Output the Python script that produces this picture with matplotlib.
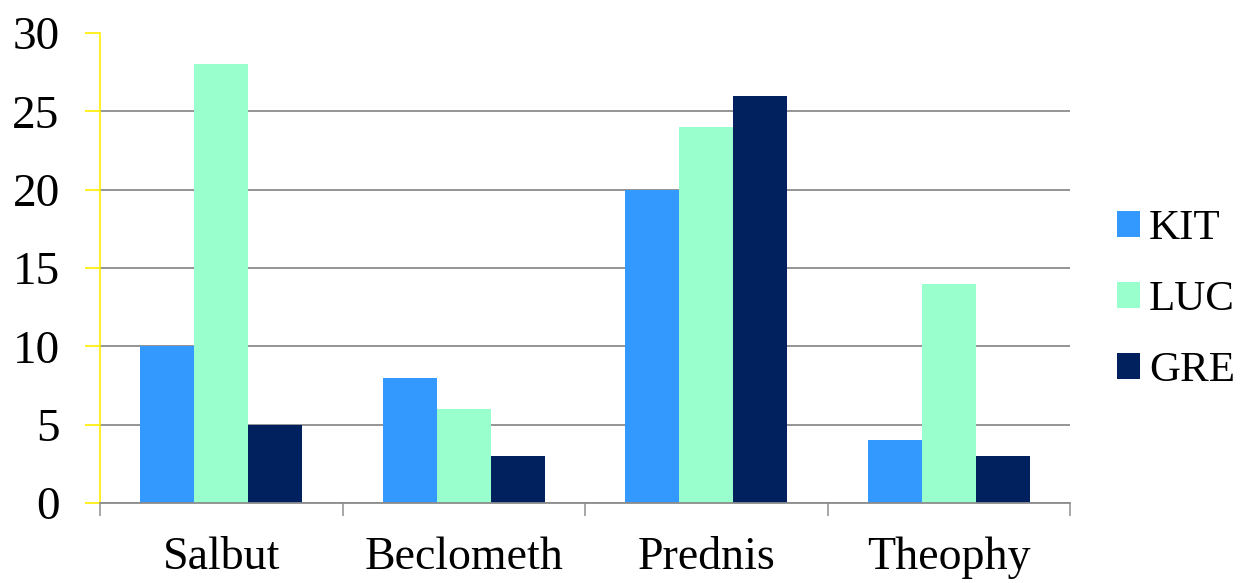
import matplotlib.pyplot as plt
import numpy as np

plt.rcParams['font.family'] = ['Liberation Serif', 'DejaVu Serif']

drugs = ['Salbut', 'Beclometh', 'Prednis', 'Theophy']
kit = [10, 8, 20, 4]
luc = [28, 6, 24, 14]
gre = [5, 3, 26, 3]
series = ['KIT', 'LUC', 'GRE']
colors = ['#3399ff', '#99ffcc', '#00215e']

fig = plt.figure(figsize=(12.5, 5.83), dpi=100)
ax = fig.add_axes([0.08, 0.1372, 0.776, 0.8062])

x = np.arange(len(drugs))
w = 0.223
for i, (vals, name, c) in enumerate(zip([kit, luc, gre], series, colors)):
    ax.bar(x + (i - 1) * w, vals, w, color=c, label=name, linewidth=0, zorder=3)

ax.set_xlim(-0.5, len(drugs) - 0.5)
ax.set_ylim(0, 30)
ax.set_yticks(range(0, 31, 5))
ax.yaxis.grid(True, color='#8c8c8c', linewidth=1.3, zorder=0)
ax.set_axisbelow(True)
ax.yaxis.get_gridlines()[-1].set_visible(False)

# category boundaries get the tick marks, names sit between them
ax.set_xticks(np.arange(-0.5, len(drugs), 1.0))
ax.set_xticklabels([])
ax.set_xticks(x, minor=True)
ax.set_xticklabels(drugs, minor=True, fontsize=33)
ax.tick_params(axis='x', which='major', direction='out', length=9,
               width=1.3, color='#a0a0a0')
ax.tick_params(axis='x', which='minor', length=0, pad=24)
ax.tick_params(axis='y', direction='out', length=11, width=1.2,
               color='#ffee00', labelsize=34, pad=18)

for side in ['top', 'right']:
    ax.spines[side].set_visible(False)
ax.spines['left'].set_color('#ffee00')
ax.spines['left'].set_linewidth(1.2)
ax.spines['bottom'].set_color('#8c8c8c')
ax.spines['bottom'].set_linewidth(1.3)
ax.spines['bottom'].set_zorder(4)

ax.legend(loc='center left', bbox_to_anchor=(1.048, 0.432), frameon=False,
          fontsize=31, handlelength=0.55, handleheight=0.55, handletextpad=0.2,
          labelspacing=0.75, borderaxespad=0, borderpad=0)

fig.savefig('out.png', dpi=100)
